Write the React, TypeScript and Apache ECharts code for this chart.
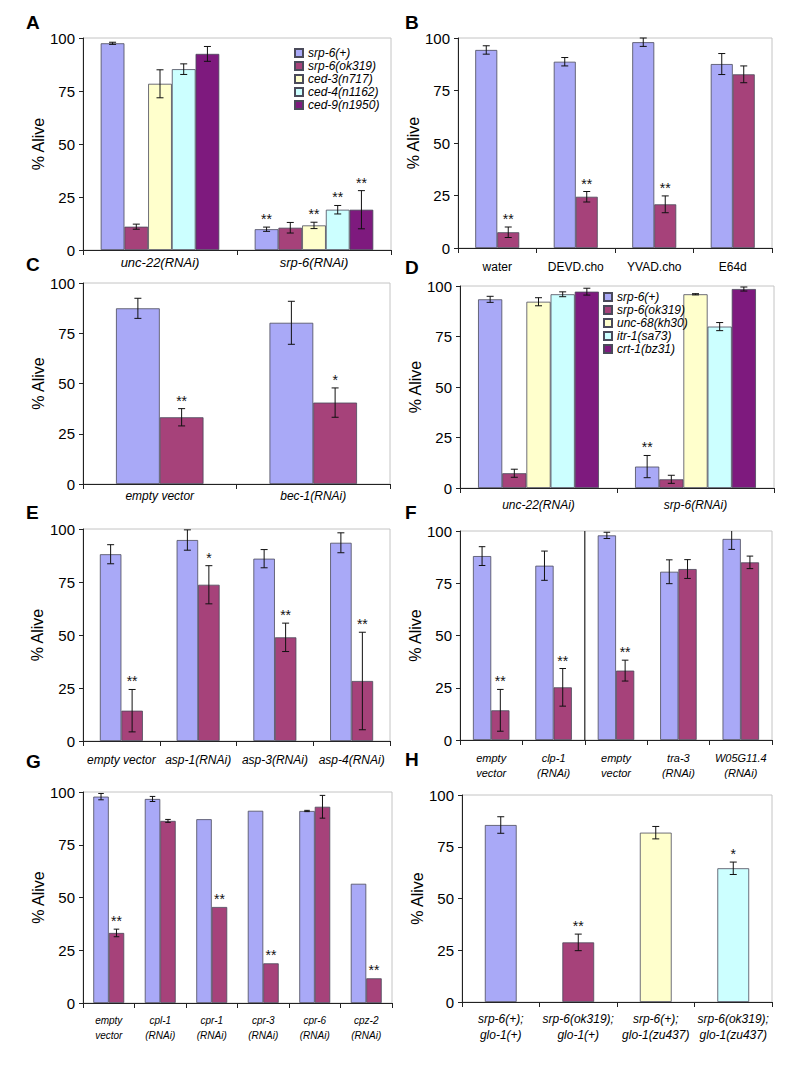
import React, { useEffect, useRef } from 'react';
import * as echarts from 'echarts';

const FONT = '"Liberation Sans", Arial, Helvetica, sans-serif';
const C_PLUS = '#A9A9F7';
const C_OK = '#A6427A';
const C_YEL = '#FFFFCC';
const C_CYA = '#CCFFFF';
const C_PUR = '#7E1A7E';

// ---------- Panel A ----------
const catsA = ['unc-22(RNAi)', 'srp-6(RNAi)'];
const namesA = ['srp-6(+)', 'srp-6(ok319)', 'ced-3(n717)', 'ced-4(n1162)', 'ced-9(n1950)'];
const valsA = [[97.5, 9.8], [11, 10.5], [78.4, 11.6], [85.3, 19], [92.5, 19]];
const errsA = [[0.5, 1], [1.2, 2.5], [6.6, 1.5], [2.5, 2], [3.5, 9]];
const starsA = [['', '**'], ['', ''], ['', '**'], ['', '**'], ['', '**']];

// ---------- Panel B ----------
const catsB = ['water', 'DEVD.cho', 'YVAD.cho', 'E64d'];
const namesB = ['srp-6(+)', 'srp-6(ok319)'];
const valsB = [[94.3, 88.7, 98, 87.6], [7.5, 24.4, 20.8, 82.7]];
const errsB = [[2, 2, 2, 5], [2.5, 2.5, 4, 4]];
const starsB = [['', '', '', ''], ['**', '**', '**', '']];

// ---------- Panel C ----------
const catsC = ['empty vector', 'bec-1(RNAi)'];
const namesC = ['srp-6(+)', 'srp-6(ok319)'];
const valsC = [[87.4, 80.2], [33.2, 40.5]];
const errsC = [[5, 10.7], [4.3, 7.3]];
const starsC = [['', ''], ['**', '*']];

// ---------- Panel D ----------
const catsD = ['unc-22(RNAi)', 'srp-6(RNAi)'];
const namesD = ['srp-6(+)', 'srp-6(ok319)', 'unc-68(kh30)', 'itr-1(sa73)', 'crt-1(bz31)'];
const valsD = [[93.4, 10.6], [7.3, 4.3], [92.2, 95.9], [95.9, 79.9], [97.2, 98.5]];
const errsD = [[1.5, 5.5], [2, 2], [2, 0.3], [1.2, 2], [1.7, 1]];
const starsD = [['', '**'], ['', ''], ['', ''], ['', ''], ['', '']];

// ---------- Panel E ----------
const catsE = ['empty vector', 'asp-1(RNAi)', 'asp-3(RNAi)', 'asp-4(RNAi)'];
const namesE = ['srp-6(+)', 'srp-6(ok319)'];
const valsE = [[88.1, 94.8, 86, 93.5], [14.3, 73.7, 48.9, 28.3]];
const errsE = [[4.5, 4.8, 4.3, 4.7], [10, 9, 6.7, 23]];
const starsE = [['', '', '', ''], ['**', '*', '**', '**']];

// ---------- Panel F ----------
const catsF = ['empty\nvector', 'clp-1\n(RNAi)', 'empty\nvector', 'tra-3\n(RNAi)', 'W05G11.4\n(RNAi)'];
const namesF = ['srp-6(+)', 'srp-6(ok319)'];
const valsF = [[88, 83.4, 97.9, 80.5, 96.2], [14.2, 25.2, 33.2, 81.8, 85]];
const errsF = [[4.5, 7, 1.5, 5.7, 5], [10, 9, 5, 4.5, 3]];
const starsF = [['', '', '', '', ''], ['**', '**', '**', '', '']];
const dividerAfterF = 1; // separator drawn after this category index

// ---------- Panel G ----------
const catsG = ['empty\nvector', 'cpl-1\n(RNAi)', 'cpr-1\n(RNAi)', 'cpr-3\n(RNAi)', 'cpr-6\n(RNAi)', 'cpz-2\n(RNAi)'];
const namesG = ['srp-6(+)', 'srp-6(ok319)'];
const valsG = [[97.8, 96.7, 87.1, 91.1, 91, 56.5], [33.2, 86.3, 45.5, 18.8, 93, 11.7]];
const errsG = [[1.5, 1.2, 0, 0, 0.3, 0], [1.8, 0.7, 0, 0, 5.4, 0]];
const starsG = [['', '', '', '', '', ''], ['**', '', '**', '**', '', '**']];

// ---------- Panel H ----------
const catsH = ['srp-6(+);\nglo-1(+)', 'srp-6(ok319);\nglo-1(+)', 'srp-6(+);\nglo-1(zu437)', 'srp-6(ok319);\nglo-1(zu437)'];
const valsH = [85.5, 28.8, 81.8, 64.6];
const errsH = [4, 4, 3, 3];
const starsH = ['', '**', '', '*'];
const colorsH = [C_PLUS, C_OK, C_YEL, C_CYA];

const colorOf: Record<string, string> = {
  'srp-6(+)': C_PLUS,
  'srp-6(ok319)': C_OK,
  'ced-3(n717)': C_YEL,
  'ced-4(n1162)': C_CYA,
  'ced-9(n1950)': C_PUR,
  'unc-68(kh30)': C_YEL,
  'itr-1(sa73)': C_CYA,
  'crt-1(bz31)': C_PUR,
};

type Panel = {
  letter: string;
  letterPos: [number, number];
  grid: { left: number; top: number; width: number; height: number };
  cats: string[];
  names: string[];
  vals: number[][];
  errs: number[][];
  stars: string[][];
  gap: number;
  fs: number;
  italic: boolean;
  margin: number;
  lh?: number;
  nameGap: number;
  perItem?: string[];
};

const panels: Panel[] = [
  { letter: 'A', letterPos: [26, 13], grid: { left: 83, top: 38, width: 308, height: 212 }, cats: catsA, names: namesA, vals: valsA, errs: errsA, stars: starsA, gap: 0.23, fs: 13, italic: true, margin: 6, nameGap: 36 },
  { letter: 'B', letterPos: [405, 13], grid: { left: 458, top: 38, width: 314, height: 210 }, cats: catsB, names: namesB, vals: valsB, errs: errsB, stars: starsB, gap: 0.44, fs: 12, italic: false, margin: 13, nameGap: 34 },
  { letter: 'C', letterPos: [26, 255], grid: { left: 83, top: 283, width: 307, height: 201 }, cats: catsC, names: namesC, vals: valsC, errs: errsC, stars: starsC, gap: 0.43, fs: 12, italic: true, margin: 6, nameGap: 36 },
  { letter: 'D', letterPos: [405, 258], grid: { left: 460, top: 286, width: 314, height: 202 }, cats: catsD, names: namesD, vals: valsD, errs: errsD, stars: starsD, gap: 0.23, fs: 12, italic: true, margin: 11, nameGap: 32 },
  { letter: 'E', letterPos: [26, 503], grid: { left: 83, top: 529, width: 307, height: 212 }, cats: catsE, names: namesE, vals: valsE, errs: errsE, stars: starsE, gap: 0.44, fs: 12, italic: true, margin: 13, nameGap: 38 },
  { letter: 'F', letterPos: [405, 503], grid: { left: 460, top: 531, width: 312, height: 209 }, cats: catsF, names: namesF, vals: valsF, errs: errsF, stars: starsF, gap: 0.415, fs: 11, italic: true, margin: 10, lh: 15, nameGap: 33 },
  { letter: 'G', letterPos: [26, 752], grid: { left: 83, top: 792, width: 309, height: 211 }, cats: catsG, names: namesG, vals: valsG, errs: errsG, stars: starsG, gap: 0.4, fs: 10, italic: true, margin: 10, lh: 15, nameGap: 32 },
  { letter: 'H', letterPos: [405, 750], grid: { left: 462, top: 795, width: 310, height: 207 }, cats: catsH, names: ['H'], vals: [valsH], errs: [errsH], stars: [starsH], gap: 0.59, fs: 12, italic: true, margin: 9, lh: 16, nameGap: 34, perItem: colorsH },
];

function makeErr(n: number, gap: number, k: number, stars: string[]) {
  return (params: any, api: any) => {
    const j = api.value(0);
    const v = api.value(1);
    const e = api.value(2);
    const band = api.size([1, 0])[0];
    const gw = band * (1 - gap);
    const bw = gw / n;
    const p0 = api.coord([j, v]);
    const cx = p0[0] - gw / 2 + (k + 0.5) * bw;
    const cap = Math.min(3.5, bw * 0.18);
    const children: any[] = [];
    let topY = p0[1];
    const st = { stroke: '#111', lineWidth: 1 };
    if (e > 0) {
      const hi = Math.min(v + e, 100);
      const pHi = api.coord([j, hi]);
      const pLo = api.coord([j, Math.max(v - e, 0)]);
      children.push({ type: 'line', shape: { x1: cx, y1: pHi[1], x2: cx, y2: pLo[1] }, style: st });
      if (v + e <= 100) children.push({ type: 'line', shape: { x1: cx - cap, y1: pHi[1], x2: cx + cap, y2: pHi[1] }, style: st });
      children.push({ type: 'line', shape: { x1: cx - cap, y1: pLo[1], x2: cx + cap, y2: pLo[1] }, style: st });
      topY = pHi[1];
    }
    const s = stars[params.dataIndex];
    if (s) {
      children.push({
        type: 'text',
        x: cx,
        y: topY - 1,
        style: { text: s, align: 'center', verticalAlign: 'bottom', fill: '#111', font: `14px ${FONT}` },
      });
    }
    return { type: 'group', children };
  };
}

function buildOption() {
  const grids: any[] = [];
  const xAxes: any[] = [];
  const yAxes: any[] = [];
  const series: any[] = [];
  const graphic: any[] = [];
  panels.forEach((p, i) => {
    grids.push({ ...p.grid, show: true, borderColor: '#c4c4c4', borderWidth: 1, backgroundColor: 'transparent' });
    xAxes.push({
      type: 'category',
      gridIndex: i,
      data: p.cats,
      axisLine: { onZero: false, lineStyle: { color: '#222', width: 1 } },
      axisTick: { show: true, length: 5, lineStyle: { color: '#222' } },
      axisLabel: {
        color: '#000',
        fontSize: p.fs,
        fontStyle: p.italic ? 'italic' : 'normal',
        fontFamily: FONT,
        margin: p.margin,
        interval: 0,
        lineHeight: p.lh,
      },
      splitLine: { show: false },
    });
    yAxes.push({
      type: 'value',
      gridIndex: i,
      min: 0,
      max: 100,
      interval: 25,
      name: '% Alive',
      nameLocation: 'middle',
      nameGap: p.nameGap,
      nameTextStyle: { fontSize: 16, color: '#000', fontFamily: FONT },
      axisLine: { show: true, onZero: false, lineStyle: { color: '#222', width: 1 } },
      axisTick: { show: true, length: 4, lineStyle: { color: '#222' } },
      axisLabel: { fontSize: 15, color: '#000', fontFamily: FONT, margin: 8 },
      splitLine: { show: false },
    });
    const n = p.names.length;
    p.names.forEach((nm, k) => {
      const data = p.perItem
        ? p.vals[k].map((v, j) => ({ value: v, itemStyle: { color: p.perItem![j] } }))
        : p.vals[k];
      series.push({
        type: 'bar',
        name: p.perItem ? undefined : nm,
        xAxisIndex: i,
        yAxisIndex: i,
        data,
        barGap: '0%',
        barCategoryGap: `${p.gap * 100}%`,
        itemStyle: { color: colorOf[nm] || C_PLUS, borderColor: '#4a4a5a', borderWidth: 0.8 },
        silent: true,
      });
      series.push({
        type: 'custom',
        xAxisIndex: i,
        yAxisIndex: i,
        renderItem: makeErr(n, p.gap, k, p.stars[k]),
        data: p.vals[k].map((v, j) => [j, v, p.errs[k][j]]),
        encode: { x: 0, y: 1 },
        z: 10,
        silent: true,
      });
    });
    graphic.push({
      type: 'text',
      left: p.letterPos[0],
      top: p.letterPos[1],
      style: { text: p.letter, font: `bold 19px ${FONT}`, fill: '#000' },
    });
  });
  // divider in panel F, on a hidden value axis aligned to the category centres
  const fIdx = 5;
  const divAxis = xAxes.length;
  xAxes.push({ type: 'value', gridIndex: fIdx, min: -0.5, max: catsF.length - 0.5, show: false, axisLine: { onZero: false } });
  const dx = dividerAfterF + 0.5;
  series.push({
    type: 'line',
    xAxisIndex: divAxis,
    yAxisIndex: fIdx,
    data: [[dx, 0], [dx, 100]],
    symbol: 'none',
    lineStyle: { color: '#222', width: 1.2 },
    silent: true,
    z: 5,
  });

  const legendBase = {
    orient: 'vertical',
    itemWidth: 8,
    itemHeight: 8,
    itemGap: 1,
    icon: 'rect',
    padding: 0,
    selectedMode: false,
    textStyle: { fontStyle: 'italic', fontSize: 12, lineHeight: 12, color: '#000', fontFamily: FONT },
  };

  return {
    animation: false,
    backgroundColor: '#fff',
    textStyle: { fontFamily: FONT },
    grid: grids,
    xAxis: xAxes,
    yAxis: yAxes,
    series,
    graphic,
    legend: [
      { ...legendBase, data: namesA, left: 294, top: 47 },
      { ...legendBase, data: namesD, left: 603, top: 291 },
    ],
  };
}

export default function App() {
  const ref = useRef<HTMLDivElement>(null);
  useEffect(() => {
    if (!ref.current) return;
    const chart = echarts.init(ref.current, undefined, { renderer: 'svg' });
    chart.setOption(buildOption() as any);
    return () => chart.dispose();
  }, []);
  return (
    <div
      ref={ref}
      style={{ position: 'absolute', left: 0, top: 0, width: 800, height: 1074, background: '#fff' }}
    />
  );
}
